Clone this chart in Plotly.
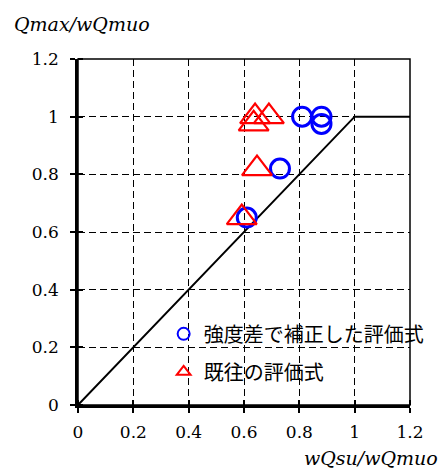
import plotly.graph_objects as go

# Data
circle_x = [0.81, 0.88, 0.88, 0.73, 0.61]
circle_y = [1.00, 1.00, 0.975, 0.82, 0.65]
tri_x = [0.64, 0.635, 0.69, 0.647, 0.592]
tri_y = [1.00, 0.975, 1.00, 0.82, 0.65]
line_x = [0, 1.0, 1.2]
line_y = [0, 1.0, 1.0]
tick_vals = [0, 0.2, 0.4, 0.6, 0.8, 1.0, 1.2]
tick_text = ["0", "0.2", "0.4", "0.6", "0.8", "1", "1.2"]

name_circle = "強度差で補正した評価式"
name_tri = "既往の評価式"

serif = "DejaVu Serif"
cjk = "Noto Sans CJK JP"

fig = go.Figure()
fig.add_trace(go.Scatter(x=line_x, y=line_y, mode="lines",
                         line=dict(color="black", width=2),
                         showlegend=False, hoverinfo="skip"))
fig.add_trace(go.Scatter(x=circle_x, y=circle_y, mode="markers", name=name_circle,
                         legendgroup="a",
                         marker=dict(symbol="circle-open", size=19, color="#0000FF",
                                     line=dict(width=3, color="#0000FF"))))
fig.add_trace(go.Scatter(x=tri_x, y=tri_y, mode="markers", name=name_tri,
                         legendgroup="b",
                         marker=dict(symbol="triangle-up-open", size=26, color="#FF0000",
                                     line=dict(width=2.2, color="#FF0000"))))

axis_common = dict(
    range=[0, 1.2], tickvals=tick_vals, ticktext=tick_text,
    showgrid=True, gridcolor="black", gridwidth=1.2, griddash="7px,4px",
    zeroline=False, showline=True, linecolor="black", linewidth=2.5,
    ticks="outside", ticklen=5, tickwidth=1.5, tickcolor="black",
    minor=dict(tickvals=tick_vals, ticks="inside", ticklen=5, tickwidth=1.5,
               tickcolor="black", showgrid=False),
    tickfont=dict(family=serif, size=17, color="black"),
    fixedrange=True,
)

fig.update_xaxes(**axis_common, ticklabelstandoff=5)
fig.update_yaxes(**axis_common, ticklabelstandoff=8)

fig.add_shape(type="rect", xref="x domain", yref="y domain", x0=0, y0=0, x1=1, y1=1,
              line=dict(color="black", width=1.5), layer="above")

fig.update_layout(
    width=444, height=472,
    font=dict(family=serif, size=17, color="black"),
    margin=dict(l=78, r=34, t=59, b=67, autoexpand=False),
    paper_bgcolor="white", plot_bgcolor="white",
    showlegend=True,
    legend=dict(x=0.258, y=0.262, xanchor="left", yanchor="top",
                bgcolor="rgba(0,0,0,0)", borderwidth=0,
                font=dict(family=cjk, size=20, color="black"),
                itemsizing="constant", traceorder="grouped", tracegroupgap=9),
    annotations=[
        dict(text="<i>Qmax/wQmuo</i>", xref="paper", yref="paper", x=-0.2, y=1.065,
             xanchor="left", yanchor="bottom", showarrow=False,
             font=dict(family=serif, size=19, color="black")),
        dict(text="<i>wQsu/wQmuo</i>", xref="paper", yref="paper", x=1.09, y=-0.115,
             xanchor="right", yanchor="top", showarrow=False,
             font=dict(family=serif, size=19, color="black")),
    ],
)

fig.write_html("out.html", config={"displayModeBar": False},
               post_script="document.body.style.margin='0';document.body.style.padding='0';")
